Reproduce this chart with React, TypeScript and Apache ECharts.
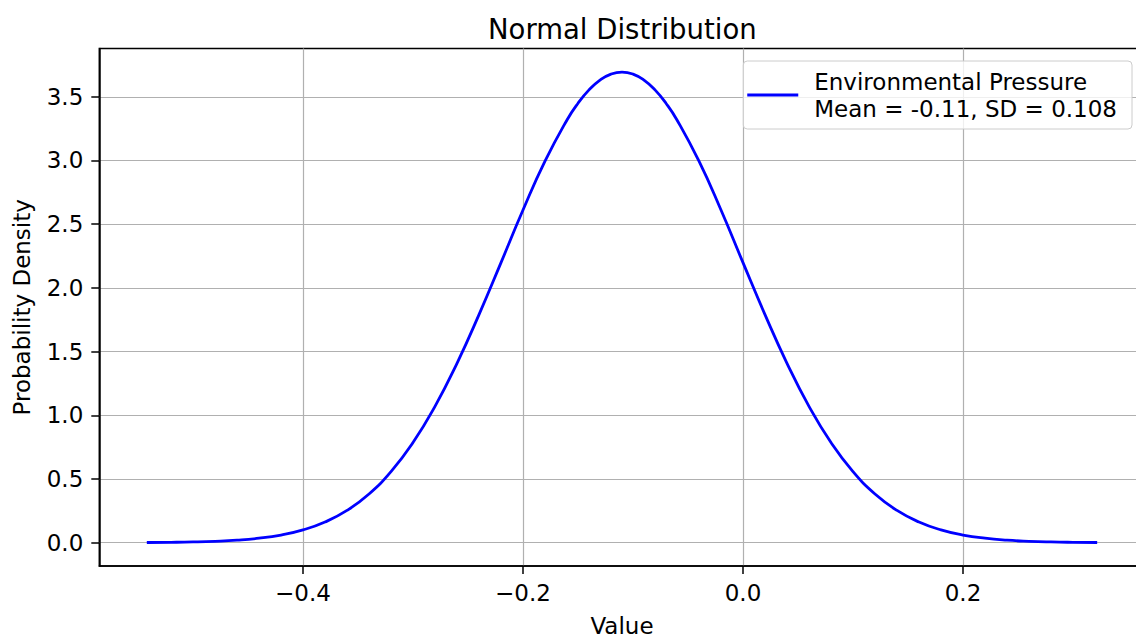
import React, { useEffect, useRef } from "react";
import * as echarts from "echarts";

const seriesName = "Environmental Pressure\nMean = -0.11, SD = 0.108";
const xValues = [
  -0.542, -0.52, -0.5, -0.48, -0.46, -0.44, -0.42, -0.4, -0.38, -0.36, -0.34, -0.32, -0.3,
  -0.28, -0.26, -0.24, -0.22, -0.2, -0.18, -0.16, -0.15, -0.14, -0.13, -0.12, -0.11, -0.1,
  -0.09, -0.08, -0.07, -0.06, -0.04, -0.02, 0.0, 0.02, 0.04, 0.06, 0.08, 0.1, 0.12, 0.14,
  0.16, 0.18, 0.2, 0.22, 0.24, 0.26, 0.28, 0.3, 0.322,
];
const densityValues = [
  0.0012, 0.0027, 0.0054, 0.0105, 0.0193, 0.0347, 0.06, 0.1, 0.162, 0.253, 0.382, 0.558, 0.786,
  1.07, 1.408, 1.79, 2.198, 2.611, 2.994, 3.318, 3.449, 3.554, 3.631, 3.678, 3.694, 3.678,
  3.631, 3.554, 3.449, 3.318, 2.994, 2.611, 2.198, 1.79, 1.408, 1.07, 0.786, 0.558, 0.382, 0.253,
  0.162, 0.1, 0.06, 0.0347, 0.0193, 0.0105, 0.0054, 0.0027, 0.0012,
];
const xTicks = [-0.4, -0.2, 0.0, 0.2];
const yTicks = [0.0, 0.5, 1.0, 1.5, 2.0, 2.5, 3.0, 3.5];

const FONT = "DejaVu Sans";
const LABEL_SIZE = 23;
const TITLE_SIZE = 27.5;
const CHART_W = 1146;
const TITLE_TEXT = "Normal Distribution";

export default function App() {
  const ref = useRef<HTMLDivElement>(null);
  useEffect(() => {
    if (!ref.current) return;
    const chart = echarts.init(ref.current, undefined, { renderer: "svg" });
    const data = xValues.map((x, i) => [x, densityValues[i]]);
    chart.setOption({
      animation: false,
      backgroundColor: "#ffffff",
      textStyle: { fontFamily: FONT },
      title: {
        text: TITLE_TEXT,
        left: 483,
        top: 10,
        textStyle: { fontFamily: FONT, fontSize: TITLE_SIZE, fontWeight: "normal", color: "#000" },
      },
      grid: {
        left: 99.3,
        top: 48.6,
        bottom: 73.5,
        right: CHART_W - 1144.7,
        show: true,
        borderColor: "#000",
        borderWidth: 1.5,
        backgroundColor: "transparent",
        containLabel: false,
      },
      legend: {
        show: true,
        right: CHART_W - 1132,
        top: 61,
        orient: "vertical",
        backgroundColor: "rgba(255,255,255,0.8)",
        borderColor: "#cccccc",
        borderWidth: 1,
        borderRadius: 4,
        padding: [7, 15, 7, 4],
        itemWidth: 62,
        itemHeight: 3,
        itemGap: 0,
        textStyle: { fontFamily: FONT, fontSize: LABEL_SIZE, color: "#000", lineHeight: 27 },
        data: [{ name: seriesName, icon: "path://M0,0 L51,0 L51,3 L0,3 Z M62,0 L62,3 L62,0 Z" }],
      },
      xAxis: {
        type: "value",
        min: -0.5852,
        max: 0.3652,
        name: "Value",
        nameLocation: "middle",
        nameGap: 48,
        nameTextStyle: { fontFamily: FONT, fontSize: LABEL_SIZE, color: "#000" },
        axisLine: { show: true, onZero: false, lineStyle: { color: "#000", width: 1.5 } },
        axisTick: {
          show: true,
          inside: false,
          length: 8,
          customValues: xTicks,
          lineStyle: { color: "#000", width: 1.5 },
        },
        axisLabel: {
          customValues: xTicks,
          margin: 15,
          fontFamily: FONT,
          fontSize: LABEL_SIZE,
          color: "#000",
          formatter: (v: number) => v.toFixed(1).replace("-", "\u2212"),
        },
        splitLine: { show: true, lineStyle: { color: "#b0b0b0", width: 1.2 } },
      },
      yAxis: {
        type: "value",
        min: -0.1833,
        max: 3.878,
        name: "Probability Density",
        nameLocation: "middle",
        nameGap: 66,
        nameRotate: 90,
        nameTextStyle: { fontFamily: FONT, fontSize: LABEL_SIZE, color: "#000" },
        axisLine: { show: true, onZero: false, lineStyle: { color: "#000", width: 1.5 } },
        axisTick: {
          show: true,
          inside: false,
          length: 8,
          customValues: yTicks,
          lineStyle: { color: "#000", width: 1.5 },
        },
        axisLabel: {
          customValues: yTicks,
          margin: 16,
          fontFamily: FONT,
          fontSize: LABEL_SIZE,
          color: "#000",
          formatter: (v: number) => v.toFixed(1).replace("-", "\u2212"),
        },
        splitLine: { show: true, lineStyle: { color: "#b0b0b0", width: 1.2 } },
      },
      series: [
        {
          name: seriesName,
          type: "line",
          data,
          smooth: 0.5,
          symbol: "none",
          showSymbol: false,
          lineStyle: { color: "#0000ff", width: 2.8 },
          itemStyle: { color: "#0000ff" },
        },
      ],
    });
    return () => chart.dispose();
  }, []);
  return (
    <div style={{ position: "fixed", left: 0, top: 0, width: 1136, height: 642, overflow: "hidden" }}>
      <div ref={ref} style={{ width: CHART_W, height: 642 }} />
    </div>
  );
}
